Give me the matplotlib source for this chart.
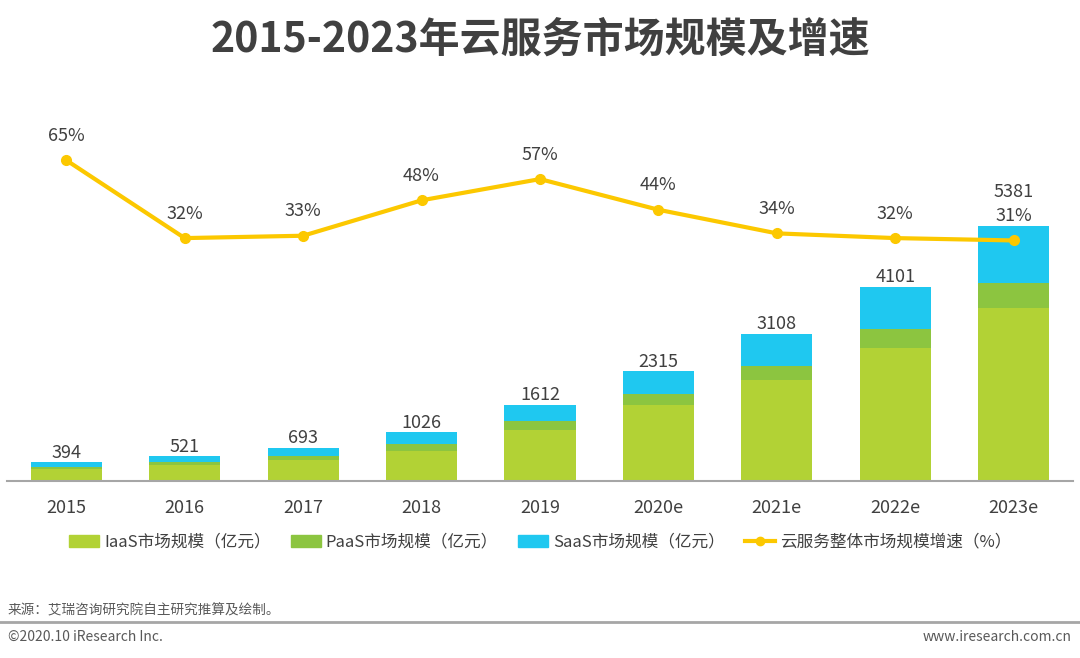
import numpy as np
import matplotlib
matplotlib.use('Agg')
import matplotlib.pyplot as plt
from matplotlib.lines import Line2D
from matplotlib.patches import Patch

plt.rcParams['font.family'] = ['Noto Sans CJK SC', 'DejaVu Sans']

# data
years = ['2015', '2016', '2017', '2018', '2019', '2020e', '2021e', '2022e', '2023e']
iaas = [260, 338, 437, 633, 1076, 1605, 2140, 2810, 3650]
paas = [36, 63, 97, 154, 190, 240, 295, 393, 528]
saas = [98, 120, 159, 239, 346, 470, 673, 898, 1203]
totals = [394, 521, 693, 1026, 1612, 2315, 3108, 4101, 5381]
growth = [65, 32, 33, 48, 57, 44, 34, 32, 31]

c_iaas = '#b2d235'
c_paas = '#8cc540'
c_saas = '#1fc8f0'
c_line = '#fcc800'
txt = '#404040'

fig = plt.figure(figsize=(10.8, 6.58), dpi=100)
ax = fig.add_axes([7 / 1080, 1 - 481 / 658, 1066 / 1080, 381 / 658])
ax2 = ax.twinx()

x = np.arange(len(years))
w = 0.6
ax.bar(x, iaas, w, color=c_iaas, zorder=2)
ax.bar(x, paas, w, bottom=iaas, color=c_paas, zorder=2)
bot = np.array(iaas) + np.array(paas)
ax.bar(x, saas, w, bottom=bot, color=c_saas, zorder=2)

# total labels
for i, t in enumerate(totals):
    off = 18 if i == len(totals) - 1 else 0.5
    ax.annotate(str(t), (x[i], t), xytext=(0, off), textcoords='offset points',
                ha='center', va='bottom', fontsize=13, color=txt)

ax.set_xlim(-0.5, len(years) - 0.5)
ax.set_ylim(0, 8040)
ax.set_xticks(x)
ax.set_xticklabels(years, fontsize=13, color=txt)
ax.tick_params(axis='x', length=0, pad=13)
ax.set_yticks([])
for s in ['top', 'right', 'left']:
    ax.spines[s].set_visible(False)
ax.spines['bottom'].set_color('#a6a6a6')
ax.spines['bottom'].set_linewidth(1.5)

# growth line
ax2.plot(x, growth, color=c_line, lw=3, marker='o', ms=7, zorder=3)
for i, g in enumerate(growth):
    ax2.annotate(f'{g}%', (x[i], g), xytext=(0, 11), textcoords='offset points',
                 ha='center', va='bottom', fontsize=13, color=txt)
ax2.set_ylim(-70.9, 90.5)
ax2.set_yticks([])
for s in ['top', 'right', 'left', 'bottom']:
    ax2.spines[s].set_visible(False)

fig.text(0.5, 1 - 40 / 658, '2015-2023年云服务市场规模及增速', ha='center', va='center',
         fontsize=29.5, fontweight='bold', color=txt)

handles = [Patch(color=c_iaas), Patch(color=c_paas), Patch(color=c_saas),
           Line2D([0], [0], color=c_line, lw=3, marker='o', ms=6)]
labels = ['IaaS市场规模（亿元）', 'PaaS市场规模（亿元）', 'SaaS市场规模（亿元）', '云服务整体市场规模增速（%）']
fig.legend(handles, labels, loc='center', bbox_to_anchor=(0.5, 1 - 542 / 658), ncol=4,
           frameon=False, fontsize=12, handlelength=1.8, handletextpad=0.3,
           columnspacing=1.2, labelcolor=txt)

fig.text(8 / 1080, 1 - 610 / 658, '来源：艾瑞咨询研究院自主研究推算及绘制。', ha='left', va='center',
         fontsize=9.8, color='#595959')
fig.add_artist(Line2D([0, 1], [1 - 622 / 658] * 2, color='#a6a6a6', lw=2))
fig.text(8 / 1080, 1 - 637 / 658, '©2020.10 iResearch Inc.', ha='left', va='center',
         fontsize=10, color='#595959')
fig.text(1 - 8 / 1080, 1 - 637 / 658, 'www.iresearch.com.cn', ha='right', va='center',
         fontsize=10, color='#595959')

fig.savefig('out.png', dpi=100)
